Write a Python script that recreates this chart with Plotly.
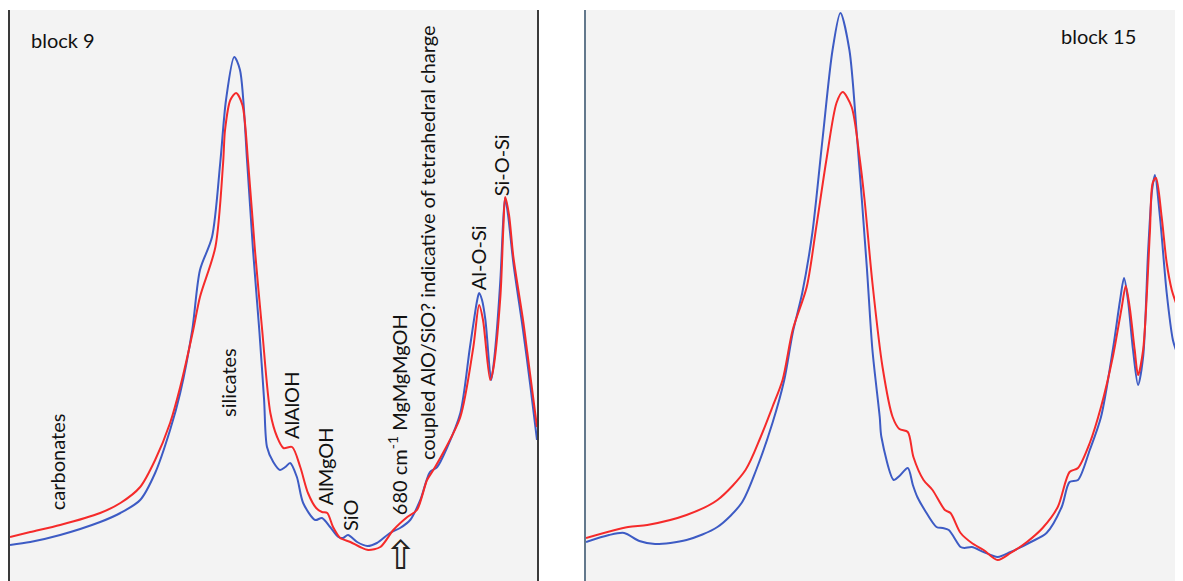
import plotly.graph_objects as go

# ---------------- data (wavenumber cm-1, absorbance a.u.) ----------------
b9_blue_wn = [1497, 1455, 1393, 1310, 1268, 1227, 1196, 1165, 1144, 1119, 1103, 1078, 1061, 1049, 1032,
              1020, 1005, 993, 980, 970, 964, 951, 937, 926, 916, 902, 889, 864, 850, 833, 816, 806, 796,
              777, 756, 736, 709, 688, 667, 646, 626, 611, 590, 563, 543, 528, 524, 518, 511, 499, 493,
              480, 474, 470, 464, 453, 433, 418, 404]
b9_blue_ab = [36, 39, 46, 59, 68, 81, 108, 151, 188, 251, 311, 344, 418, 481, 524,
              511, 418, 331, 251, 181, 134, 119, 111, 114, 118, 104, 78, 61, 63, 54, 44, 43, 46,
              39, 35, 38, 48, 53, 61, 81, 109, 114, 134, 168, 234, 281, 288, 281, 261, 201, 221,
              301, 361, 383, 366, 318, 251, 196, 141]

b9_red_wn = [1497, 1455, 1393, 1310, 1268, 1227, 1196, 1165, 1144, 1117, 1103, 1071, 1055, 1051, 1040,
             1028, 1015, 1003, 989, 974, 957, 943, 930, 912, 895, 879, 862, 850, 839, 827, 812, 791,
             771, 754, 729, 702, 673, 653, 632, 619, 599, 563, 536, 524, 516, 501, 495, 480, 474,
             470, 462, 453, 433, 424, 414, 404]
b9_red_ab = [44, 49, 56, 68, 78, 94, 121, 158, 194, 251, 284, 334, 418, 451, 481,
             488, 476, 418, 331, 251, 168, 144, 133, 134, 114, 88, 73, 69, 68, 54, 43, 39,
             34, 31, 34, 51, 64, 71, 101, 111, 128, 164, 234, 276, 261, 201, 211, 284, 351,
             384, 366, 324, 261, 228, 191, 154]

b15_blue_wn = [1485, 1444, 1417, 1390, 1362, 1306, 1251, 1208, 1182, 1153, 1132, 1117, 1100, 1082, 1064,
               1046, 1032, 1016, 1003, 985, 975, 962, 959, 937, 927, 912, 903, 895, 882, 861, 850, 839,
               818, 811, 798, 777, 752, 729, 693, 665, 638, 624, 609, 588, 568, 547, 534, 527, 520,
               511, 502, 493, 484, 477, 472, 463, 451, 440, 431, 422]
b15_blue_ab = [39, 46, 48, 40, 37, 41, 54, 78, 111, 158, 201, 248, 288, 348, 441,
               531, 568, 531, 448, 314, 231, 164, 144, 101, 105, 113, 96, 84, 71, 54, 53, 51,
               34, 33, 34, 29, 24, 29, 39, 48, 74, 99, 101, 131, 164, 231, 281, 303, 281,
               231, 196, 224, 331, 391, 406, 364, 288, 241, 224, 178]

b15_red_wn = [1485, 1410, 1376, 1306, 1251, 1201, 1174, 1153, 1135, 1117, 1092, 1075, 1057, 1039, 1028,
              1012, 998, 989, 975, 957, 939, 927, 912, 902, 884, 868, 846, 836, 818, 798, 777, 752,
              729, 700, 672, 645, 624, 609, 588, 568, 547, 531, 524, 517, 508, 502, 493, 481, 476,
              470, 460, 451, 442, 431, 422]
b15_red_ab = [43, 54, 56, 66, 81, 111, 144, 174, 201, 251, 294, 354, 421, 478, 489,
              474, 424, 381, 298, 214, 164, 152, 149, 124, 101, 91, 71, 68, 48, 38, 31, 21,
              28, 39, 53, 74, 109, 113, 138, 174, 224, 274, 295, 274, 231, 206, 231, 348, 398,
              403, 364, 318, 291, 271, 231]

# labels: (text, wavenumber, absorbance)
b9_labels = [
    ("carbonates", 1399, 119),
    ("silicates", 1045, 199),
    ("AlAlOH", 914, 176),
    ("AlMgOH", 843, 115),
    ("SiO", 792, 66),
    ("680 cm<sup>-1</sup> MgMgMgOH", 694, 166),
    ("coupled AlO/SiO? indicative of tetrahedral charge", 632, 338),
    ("Al-O-Si", 526, 323),
    ("Si-O-Si", 478, 416),
]
b9_title = ("block 9", 1457, 541)
b15_title = ("block 15", 572, 545)
arrow_mark = ("⇧", 686, 26)

BLUE = "#3d5bc4"
RED = "#f52a2a"
FONT = "Lato"
FS = 20

fig = go.Figure()
line_kw = dict(shape="spline", smoothing=0.8, width=2)
fig.add_trace(go.Scatter(x=b9_blue_wn, y=b9_blue_ab, mode="lines", line=dict(color=BLUE, **line_kw),
                         xaxis="x", yaxis="y", showlegend=False))
fig.add_trace(go.Scatter(x=b9_red_wn, y=b9_red_ab, mode="lines", line=dict(color=RED, **line_kw),
                         xaxis="x", yaxis="y", showlegend=False))
fig.add_trace(go.Scatter(x=b15_blue_wn, y=b15_blue_ab, mode="lines", line=dict(color=BLUE, **line_kw),
                         xaxis="x2", yaxis="y2", showlegend=False))
fig.add_trace(go.Scatter(x=b15_red_wn, y=b15_red_ab, mode="lines", line=dict(color=RED, **line_kw),
                         xaxis="x2", yaxis="y2", showlegend=False))

annotations = []
for txt, xw, ya in b9_labels:
    annotations.append(dict(text=txt, x=xw, y=ya, xref="x", yref="y", showarrow=False,
                            textangle=-90, font=dict(family=FONT, size=FS, color="#111111"),
                            xanchor="center", yanchor="middle"))
annotations.append(dict(text=b9_title[0], x=b9_title[1], y=b9_title[2], xref="x", yref="y",
                        showarrow=False, font=dict(family=FONT, size=FS, color="#111111"),
                        xanchor="left", yanchor="middle"))
annotations.append(dict(text=b15_title[0], x=b15_title[1], y=b15_title[2], xref="x2", yref="y2",
                        showarrow=False, font=dict(family=FONT, size=FS, color="#111111"),
                        xanchor="center", yanchor="middle"))
annotations.append(dict(text=arrow_mark[0], x=arrow_mark[1], y=arrow_mark[2], xref="x", yref="y",
                        showarrow=False, font=dict(family="DejaVu Sans", size=40, color="#222222"),
                        xanchor="center", yanchor="middle"))

# page has an 8px body margin: figure sized so the panels land where the reference has them
W, H = 1175, 573
axis_common = dict(showgrid=False, zeroline=False, showticklabels=False, ticks="")
fig.update_layout(
    width=W, height=H,
    margin=dict(l=0, r=0, t=2, b=0),
    paper_bgcolor="white",
    plot_bgcolor="#f3f3f3",
    xaxis=dict(domain=[2 / W, 529 / W], range=[1497, 404], **axis_common),
    yaxis=dict(domain=[0, 1], range=[0, 571], showline=True, linewidth=2, linecolor="#3a3a3a",
               mirror=True, **axis_common),
    xaxis2=dict(domain=[578 / W, 1.0], range=[1485, 422], anchor="y2", **axis_common),
    yaxis2=dict(domain=[0, 1], range=[0, 571], anchor="x2", showline=True, linewidth=2,
                linecolor="#63788c", **axis_common),
    annotations=annotations,
)

fig.write_html("out.html")
